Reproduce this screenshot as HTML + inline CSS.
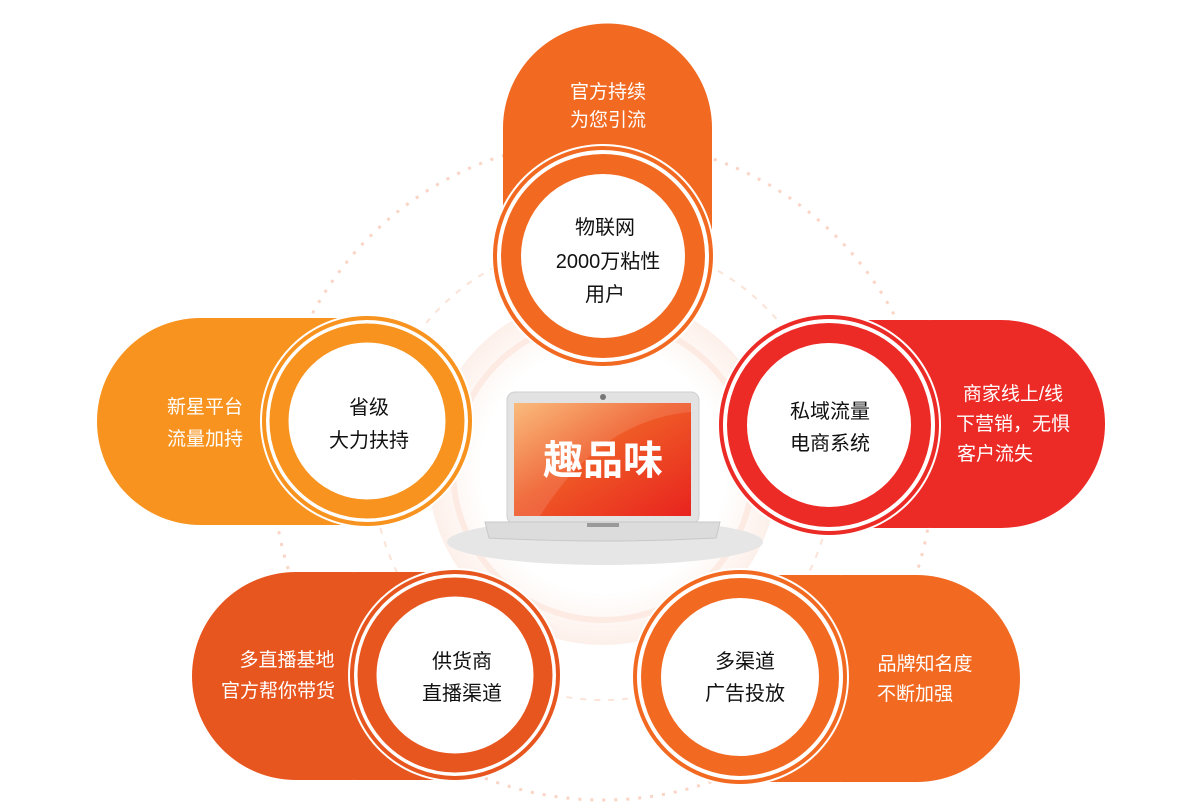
<!DOCTYPE html>
<html><head><meta charset="utf-8"><style>
body{margin:0;background:#fff;width:1200px;height:810px;overflow:hidden}
svg{display:block}
text{font-family:"Liberation Sans","Noto Sans CJK SC",sans-serif}
</style></head><body>
<svg width="1200" height="810" viewBox="0 0 1200 810">
<defs>
<linearGradient id="scr" x1="0" y1="0" x2="1" y2="1">
<stop offset="0" stop-color="#f9b26a"/><stop offset="0.45" stop-color="#ef5a26"/><stop offset="1" stop-color="#e8231f"/>
</linearGradient>
<radialGradient id="glow" cx="0.5" cy="0.5" r="0.5">
<stop offset="0.7" stop-color="#fff"/><stop offset="1" stop-color="#fdf0ea"/>
</radialGradient>
</defs>
<circle cx="603" cy="470" r="330" fill="none" stroke="#fad4c4" stroke-width="3" stroke-dasharray="3 9"/>
<circle cx="603" cy="470" r="175" fill="url(#glow)"/>
<circle cx="603" cy="470" r="150" fill="none" stroke="#fdebe3" stroke-width="6"/>
<circle cx="603" cy="470" r="230" fill="none" stroke="#fbe3d8" stroke-width="2" stroke-dasharray="6 8"/>

<path d="M503 128 A104.5 104.5 0 0 1 712 128 L712 255 L503 255 Z" fill="#f26a21"/>
<rect x="97" y="318" width="270" height="207" fill="#f7931e" rx="103.5"/>
<rect x="250" y="318" width="117" height="207" fill="#f7931e"/>
<rect x="829" y="320" width="276" height="208" rx="104" fill="#ec2a26"/>
<rect x="829" y="320" width="100" height="208" fill="#ec2a26"/>
<rect x="192" y="572" width="263" height="208" rx="104" fill="#e8561f"/>
<rect x="355" y="572" width="100" height="208" fill="#e8561f"/>
<rect x="740" y="575" width="280" height="207" rx="103.5" fill="#f26a21"/>
<rect x="740" y="575" width="100" height="207" fill="#f26a21"/>

<g>
<circle cx="603" cy="256" r="112" fill="#fff"/>
<circle cx="603" cy="256" r="108" fill="none" stroke="#f26a21" stroke-width="4"/>
<circle cx="603" cy="256" r="92" fill="#fff" stroke="#f26a21" stroke-width="20"/>
</g>
<g>
<circle cx="367" cy="421" r="107" fill="#fff"/>
<circle cx="367" cy="421" r="103" fill="none" stroke="#f7931e" stroke-width="4"/>
<circle cx="367" cy="421" r="88" fill="#fff" stroke="#f7931e" stroke-width="19"/>
</g>
<g>
<circle cx="829" cy="425" r="112" fill="#fff"/>
<circle cx="829" cy="425" r="108" fill="none" stroke="#ec2a26" stroke-width="4"/>
<circle cx="829" cy="425" r="92" fill="#fff" stroke="#ec2a26" stroke-width="20"/>
</g>
<g>
<circle cx="455" cy="675" r="107" fill="#fff"/>
<circle cx="455" cy="675" r="103" fill="none" stroke="#e8561f" stroke-width="4"/>
<circle cx="455" cy="675" r="88" fill="#fff" stroke="#e8561f" stroke-width="19"/>
</g>
<g>
<circle cx="740" cy="677" r="109" fill="#fff"/>
<circle cx="740" cy="677" r="105" fill="none" stroke="#f26a21" stroke-width="4"/>
<circle cx="740" cy="677" r="89" fill="#fff" stroke="#f26a21" stroke-width="20"/>
</g>

<ellipse cx="605" cy="542" rx="158" ry="23" fill="#e6e6e6"/>
<rect x="507" y="392" width="192" height="132" rx="8" fill="#e2e2e2" stroke="#cfcfcf"/>
<circle cx="603" cy="397" r="3" fill="#777"/>
<rect x="514" y="403" width="177" height="113" fill="url(#scr)"/>
<path d="M514 403 L691 403 L691 412 Q600 420 540 516 L514 516 Z" fill="#fff" opacity="0.12"/>
<path d="M485 522 L720 522 L716 538 Q603 544 489 538 Z" fill="#dcdcdc" stroke="#c8c8c8"/>
<rect x="587" y="523" width="32" height="4" fill="#9a9a9a"/>
<text x="603" y="474" font-size="40" fill="#fff" text-anchor="middle" font-weight="bold">趣品味</text>

<g font-size="19" fill="#fff" text-anchor="middle">
<text x="608" y="98">官方持续</text><text x="608" y="126">为您引流</text>
<text x="205" y="413">新星平台</text><text x="205" y="445">流量加持</text>
<text x="1013" y="400">商家线上/线</text><text x="1013" y="430">下营销，无惧</text><text x="995" y="460">客户流失</text>
<text x="287" y="666">多直播基地</text><text x="278" y="697">官方帮你带货</text>
<text x="925" y="670">品牌知名度</text><text x="915" y="700">不断加强</text>
</g>
<g font-size="20" fill="#111" text-anchor="middle">
<text x="605" y="234">物联网</text><text x="608" y="268">2000万粘性</text><text x="605" y="301">用户</text>
<text x="369" y="414">省级</text><text x="369" y="447">大力扶持</text>
<text x="830" y="418">私域流量</text><text x="830" y="450">电商系统</text>
<text x="462" y="668">供货商</text><text x="462" y="700">直播渠道</text>
<text x="745" y="668">多渠道</text><text x="745" y="700">广告投放</text>
</g>
</svg>
</body></html>
